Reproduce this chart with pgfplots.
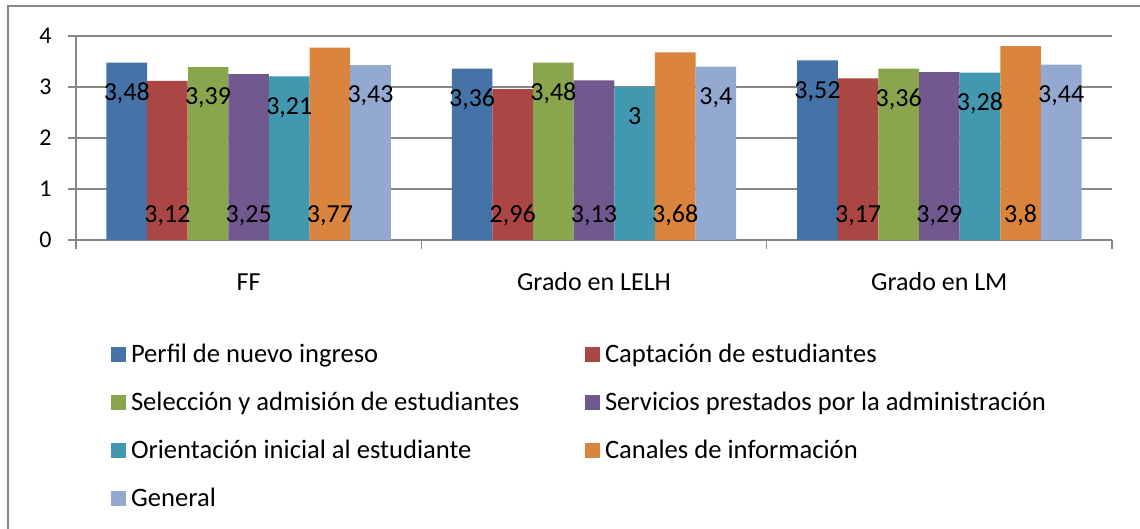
\documentclass[border=0pt]{standalone}
\usepackage{pgfplots}
\pgfplotsset{compat=1.18}
\usepackage{fontspec}
\setmainfont{Carlito}
\definecolor{c1}{HTML}{4572A7}
\definecolor{c2}{HTML}{AA4643}
\definecolor{c3}{HTML}{89A54E}
\definecolor{c4}{HTML}{71588F}
\definecolor{c5}{HTML}{4198AF}
\definecolor{c6}{HTML}{DB843D}
\definecolor{c7}{HTML}{93A9CF}
\definecolor{gl}{HTML}{878787}
\begin{document}
\begin{tikzpicture}
\useasboundingbox (0,0) rectangle (570pt,264.5pt);
\draw[gl, line width=0.6pt] (4pt,-5pt) rectangle (575pt,261.5pt);
\begin{axis}[
  at={(38pt,144.5pt)}, anchor=south west,
  scale only axis, width=518pt, height=102pt,
  xmin=-0.5, xmax=2.5, ymin=0, ymax=4,
  ybar, bar width=0.1176,
  /pgf/number format/assume math mode=true,
  axis lines*=left,
  axis line style={gl, line width=0.6pt, -},
  tick align=outside,
  ytick={0,1,2,3,4},
  ymajorgrids, grid style={gl, line width=0.6pt},
  ytick style={gl, line width=0.6pt},
  major tick length=4pt,
  yticklabel style={font=\fontsize{12}{14}\selectfont, inner sep=0pt, anchor=east, xshift=-8pt},
  xtick={0,1,2},
  xticklabels={FF, Grado en LELH, Grado en LM},
  xtick style={draw=none},
  xticklabel style={font=\fontsize{13}{15}\selectfont, anchor=base, inner sep=0pt, yshift=-21.3pt},
  extra x ticks={-0.5,0.5,1.5,2.5},
  extra x tick labels={},
  extra x tick style={xmajorgrids=false, major tick length=4.5pt, xtick style={draw=gl, line width=0.6pt}},
  nodes near coords={\pgfmathprintnumber[use comma]{\pgfplotspointmeta}},
  nodes near coords style={font=\fontsize{13}{15}\selectfont, inner sep=0pt, anchor=base},
  visualization depends on={rawy \as \ry},
  legend image code/.code={\fill[#1] (0pt,-3.75pt) rectangle (7.5pt,3.75pt);},
  legend columns=2,
  legend cell align=left,
  legend style={draw=none, fill=none, inner sep=0pt, outer sep=0pt,
    at={(axis description cs:0.0338,-0.5098)}, anchor=north west,
    font=\fontsize{13.3}{15}\selectfont,
    nodes={inner sep=0pt},
    row sep=13.3pt,
    /tikz/every odd column/.append style={column sep=2.5pt},
    /tikz/every even column/.append style={column sep=27pt}},
]
\addplot[fill=c1, draw=none, bar shift=-0.3529, every node near coord/.append style={yshift=-18.9pt}] coordinates {(0,3.48) (1,3.36) (2,3.52)};
\addlegendentry{\makebox[200pt][l]{Perfil de nuevo ingreso}}
\addplot[fill=c2, draw=none, bar shift=-0.2353, every node near coord/.append style={yshift={8.65pt-25.5pt*\ry}}] coordinates {(0,3.12) (1,2.96) (2,3.17)};
\addlegendentry{Captación de estudiantes}
\addplot[fill=c3, draw=none, bar shift=-0.1176, every node near coord/.append style={yshift=-18.9pt}] coordinates {(0,3.39) (1,3.48) (2,3.36)};
\addlegendentry{\makebox[200pt][l]{Selección y admisión de estudiantes}}
\addplot[fill=c4, draw=none, bar shift=0, every node near coord/.append style={yshift={8.65pt-25.5pt*\ry}}] coordinates {(0,3.25) (1,3.13) (2,3.29)};
\addlegendentry{Servicios prestados por la administración}
\addplot[fill=c5, draw=none, bar shift=0.1176, every node near coord/.append style={yshift=-18.9pt}] coordinates {(0,3.21) (1,3.00) (2,3.28)};
\addlegendentry{\makebox[200pt][l]{Orientación inicial al estudiante}}
\addplot[fill=c6, draw=none, bar shift=0.2353, every node near coord/.append style={yshift={8.65pt-25.5pt*\ry}}] coordinates {(0,3.77) (1,3.68) (2,3.80)};
\addlegendentry{Canales de información}
\addplot[fill=c7, draw=none, bar shift=0.3529, every node near coord/.append style={yshift=-18.9pt}] coordinates {(0,3.43) (1,3.40) (2,3.44)};
\addlegendentry{\makebox[200pt][l]{General}}
\end{axis}
\end{tikzpicture}
\end{document}
